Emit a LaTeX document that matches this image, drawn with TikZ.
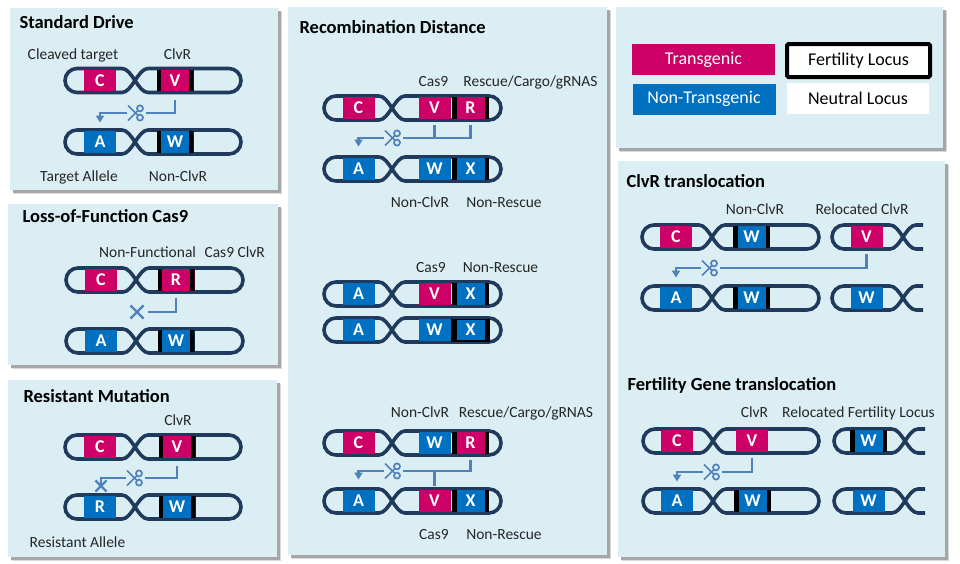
\documentclass[tikz,border=0pt]{standalone}
\usepackage{fontspec}
\setmainfont{Carlito}
\usepackage{tikz}
\usetikzlibrary{arrows.meta,shapes.misc}

\definecolor{panel}{HTML}{DAEEF3}
\definecolor{navy}{HTML}{1F3A5C}
\definecolor{tgcol}{HTML}{CC0066}
\definecolor{ntgcol}{HTML}{0070C0}
\definecolor{cutcol}{HTML}{4F81BD}
\definecolor{textcol}{HTML}{262626}

% chromosome: left end, crossing, right end, height
\newcommand\chromo[4]{%
  \draw[chrom] (#2-13,#4+12) -- (#1+12,#4+12) arc (90:270:12) -- (#2-13,#4-12)
    .. controls (#2-3,#4-12) and (#2+3,#4+12) .. (#2+13,#4+12)
    -- (#3-12,#4+12) arc (90:-90:12) -- (#2+13,#4-12)
    .. controls (#2+3,#4-12) and (#2-3,#4+12) .. (#2-13,#4+12);}
% chromosome cut off right of the crossing
\newcommand\chromoend[3]{%
  \draw[chrom] (#2-13,#3+12) -- (#1+12,#3+12) arc (90:270:12) -- (#2-13,#3-12)
    .. controls (#2-3,#3-12) and (#2+3,#3+12) .. (#2+13,#3+12) -- (#2+20,#3+12);
  \draw[chrom] (#2-13,#3+12) .. controls (#2-3,#3+12) and (#2+3,#3-12) .. (#2+13,#3-12) -- (#2+20,#3-12);}

\begin{document}
\begin{tikzpicture}[x=1pt, y=1pt, >={Triangle[width=8pt,length=7pt]},
    chrom/.style={draw=navy, line width=3.6pt},
    box/.style={minimum width=32pt, minimum height=21.5pt, inner sep=0pt, text=white, font=\fontsize{18}{20}\selectfont\bfseries},
    tg/.style={box, fill=tgcol},
    ntg/.style={box, fill=ntgcol},
    fl/.style={minimum width=37pt, path picture={
        \fill[black] (path picture bounding box.south west) rectangle ([xshift=4.5pt]path picture bounding box.north west);
        \fill[black] ([xshift=-4.5pt]path picture bounding box.south east) rectangle (path picture bounding box.north east);}},
    fb/.style={draw=black, line width=1.5pt},
    cut/.style={draw=cutcol, line width=2.2pt},
    scis/.style={fill=panel, inner sep=0pt, minimum width=19pt, minimum height=20pt, path picture={
        \begin{scope}[shift={(path picture bounding box.center)}, draw=cutcol, line width=1.7pt]
          \draw (4,4.6) circle (3);
          \draw (4,-4.6) circle (3);
          \draw (1.9,2.4) -- (-8,-7.5);
          \draw (1.9,-2.4) -- (-8,7.5);
        \end{scope}}},
    blk/.style={cross out, draw=cutcol, line width=2.2pt, minimum size=11pt, inner sep=0pt},
    lbl/.style={anchor=base, text=textcol, font=\fontsize{15.5}{18}\selectfont},
    ttl/.style={anchor=base west, text=black, font=\fontsize{18.5}{22}\selectfont\bfseries},
    legend/.style={minimum width=143pt, minimum height=31pt, inner sep=0pt, font=\fontsize{18}{20}\selectfont},
    pane/.style={fill=panel}]

    \fill[white] (0,0) rectangle (960,-563);
    \useasboundingbox (0,0) rectangle (960,-563);

    % Panels with shadow
    \foreach \xa/\ya/\xb/\yb in {10/-8/278/-190, 8/-204/278/-365, 8/-380/277/-557,
        288/-7/607/-555, 616/-7/943/-148, 618/-161/945/-557}{
      \fill[black!15] (\xa+4,\ya-4) rectangle (\xb+4,\yb-4);
      \fill[black!35] (\xa+2.5,\ya-2.5) rectangle (\xb+2.5,\yb-2.5);
      \fill[pane] (\xa,\ya) rectangle (\xb,\yb);
    }

    % Standard Drive
    \node[ttl] (t1) at (16,-28.3) {Standard Drive};
    \chromo{65}{135}{241}{-80.5}
    \chromo{65}{135}{241}{-142}
    \node[tg]     (c1) at (100,-80.5) {C};
    \node[tg,fl]  (v1) at (175,-80.5) {V};
    \node[ntg]    (a1) at (100,-142)  {A};
    \node[ntg,fl] (w1) at (175,-142)  {W};
    \node[lbl] (l1a) at (73,-59)    {Cleaved target};
    \node[lbl] (l1b) at (177.5,-59) {ClvR};
    \node[lbl] (l1c) at (79,-181)   {Target Allele};
    \node[lbl] (l1d) at (178,-181)  {Non-ClvR};
    \coordinate (k1) at (136,-113);
    \draw[cut,->] ([yshift=-9pt]v1.south) |- (k1) -| ([yshift=8.5pt]a1.north);
    \node[scis] (s1) at (k1) {};

    % Loss-of-Function Cas9
    \node[ttl] (t2) at (19,-222) {Loss-of-Function Cas9};
    \chromo{66}{136}{243}{-280}
    \chromo{66}{136}{243}{-341}
    \node[tg]     (c2) at (101,-280) {C};
    \node[tg,fl]  (r2) at (176,-280) {R};
    \node[ntg]    (a2) at (101,-341) {A};
    \node[ntg,fl] (w2) at (176,-341) {W};
    \node[lbl] (l2a) at (182,-257.3) {Non-Functional\hspace{5pt} Cas9 ClvR};
    \node[blk] (x2) at (137,-312) {};
    \draw[cut] ([yshift=-7pt]r2.south) |- ([xshift=11pt]x2.center);

    % Resistant Mutation
    \node[ttl] (t3) at (20,-402) {Resistant Mutation};
    \chromo{65}{135}{241}{-447}
    \chromo{65}{135}{241}{-507}
    \node[tg]     (c3) at (100,-447) {C};
    \node[tg,fl]  (v3) at (177,-447) {V};
    \node[ntg]    (r3) at (100,-507) {R};
    \node[ntg,fl] (w3) at (177,-507) {W};
    \node[lbl] (l3a) at (178,-425)  {ClvR};
    \node[lbl] (l3b) at (77.5,-547) {Resistant Allele};
    \coordinate (k3) at (135,-478);
    \node[blk, minimum size=9pt] (x3) at (101,-486) {};
    \draw[cut] ([yshift=-8pt]v3.south) |- (k3) -| (x3.center);
    \node[scis] (s3) at (k3) {};

    % Recombination Distance
    \node[ttl] (t4) at (296,-33) {Recombination Distance};
    \chromo{324}{392}{501}{-108}
    \chromo{324}{392}{501}{-169}
    \node[tg]     (c4) at (358.5,-108) {C};
    \node[tg]     (v4) at (434.5,-108) {V};
    \node[tg,fl]  (r4) at (470.5,-108) {R};
    \node[ntg]    (a4) at (358.5,-169) {A};
    \node[ntg]    (w4) at (434.5,-169) {W};
    \node[ntg,fl] (x4) at (470.5,-169) {X};
    \node[lbl] (l4a) at (433.5,-86) {Cas9};
    \node[lbl] (l4b) at (530.5,-86) {Rescue/Cargo/gRNAS};
    \node[lbl] (l4c) at (420,-207)  {Non-ClvR};
    \node[lbl] (l4d) at (504,-207)  {Non-Rescue};
    \coordinate (k4) at (393,-138);
    \draw[cut,->] ([yshift=-6.5pt]r4.south) |- (k4) -| ([yshift=11.5pt]a4.north);
    \draw[cut] ([yshift=-6.5pt]v4.south) -- (v4.south |- k4);
    \node[scis] (s4) at (k4) {};

    \chromo{324}{392}{501}{-294}
    \chromo{324}{392}{501}{-330}
    \node[ntg]       (a5) at (358.5,-294) {A};
    \node[tg]        (v5) at (434.5,-294) {V};
    \node[ntg,fl]    (x5) at (470.5,-294) {X};
    \node[ntg]       (a6) at (358.5,-330) {A};
    \node[ntg]       (w6) at (434.5,-330) {W};
    \node[ntg,fl,fb] (x6) at (470.5,-330) {X};
    \node[lbl] (l5a) at (431,-272)   {Cas9};
    \node[lbl] (l5b) at (500.5,-272) {Non-Rescue};

    \chromo{324}{392}{501}{-443}
    \chromo{324}{392}{501}{-501}
    \node[tg]     (c7) at (358.5,-443) {C};
    \node[ntg]    (w7) at (434.5,-443) {W};
    \node[tg,fl]  (r7) at (470.5,-443) {R};
    \node[ntg]    (a8) at (358.5,-501) {A};
    \node[tg]     (v8) at (434.5,-501) {V};
    \node[ntg,fl] (x8) at (470.5,-501) {X};
    \node[lbl] (l7a) at (420,-417) {Non-ClvR};
    \node[lbl] (l7b) at (526,-417) {Rescue/Cargo/gRNAS};
    \node[lbl] (l7c) at (434,-539) {Cas9};
    \node[lbl] (l7d) at (504,-539) {Non-Rescue};
    \coordinate (k7) at (393,-471);
    \draw[cut,->] ([yshift=-6pt]r7.south) |- (k7) -| ([yshift=10.5pt]a8.north);
    \draw[cut] ([yshift=4.5pt]v8.north) -- (v8.north |- k7);
    \node[scis] (s7) at (k7) {};

    % Legend
    \node[legend, fill=tgcol, text=white]  (lg1) at (703.5,-59.5) {Transgenic};
    \node[legend, fill=ntgcol, text=white] (lg2) at (704,-99)     {Non-Transgenic};
    \node[legend, draw=black, line width=4pt, fill=white, rounded corners=1.5pt, minimum height=33pt] (lg3) at (858.5,-60.5) {Fertility Locus};
    \node[legend, fill=white, minimum width=142pt] (lg4) at (858,-98.5) {Neutral Locus};

    % ClvR translocation
    \node[ttl] (t9) at (623,-187) {ClvR translocation};
    \chromo{642}{712}{819}{-237}
    \chromo{642}{712}{819}{-298}
    \chromoend{832}{903}{-237}
    \chromoend{832}{903}{-298}
    \node[tg]     (c9)  at (676,-237)   {C};
    \node[ntg,fl] (w9)  at (751.5,-237) {W};
    \node[tg]     (v9)  at (866.5,-237) {V};
    \node[ntg]    (a10) at (676,-298)   {A};
    \node[ntg,fl] (w10) at (751.5,-298) {W};
    \node[ntg]    (w10b) at (866.5,-298) {W};
    \node[lbl] (l9a) at (755,-214) {Non-ClvR};
    \node[lbl] (l9b) at (862,-214) {Relocated ClvR};
    \coordinate (k9) at (710,-268);
    \draw[cut,->] ([yshift=-6pt]v9.south) |- (k9) -| ([yshift=9.5pt]a10.north);
    \node[scis] (s9) at (k9) {};

    % Fertility Gene translocation
    \node[ttl] (t11) at (624,-390) {Fertility Gene translocation};
    \chromo{643}{713}{819}{-441}
    \chromo{643}{713}{819}{-501}
    \chromoend{834}{905}{-441}
    \chromoend{834}{905}{-501}
    \node[tg]     (c11)  at (677,-441)   {C};
    \node[tg]     (v11)  at (752,-441)   {V};
    \node[ntg,fl] (w11)  at (868.5,-441) {W};
    \node[ntg]    (a12)  at (677,-501)   {A};
    \node[ntg,fl] (w12)  at (752.5,-501) {W};
    \node[ntg]    (w12b) at (868.5,-501) {W};
    \node[lbl] (l11a) at (754.5,-417) {ClvR};
    \node[lbl] (l11b) at (858.5,-417) {Relocated Fertility Locus};
    \coordinate (k11) at (712,-472);
    \draw[cut,->] ([yshift=-6pt]v11.south) |- (k11) -| ([yshift=8.5pt]a12.north);
    \node[scis] (s11) at (k11) {};

\end{tikzpicture}
\end{document}
